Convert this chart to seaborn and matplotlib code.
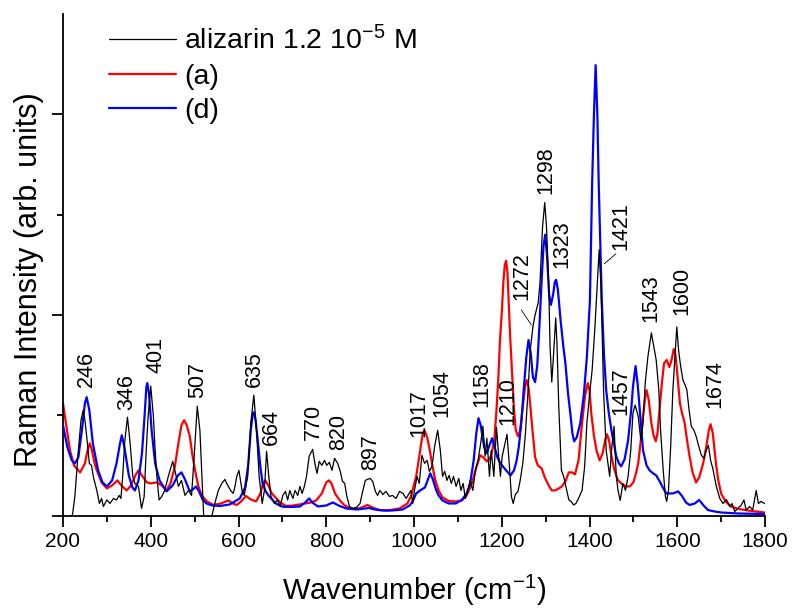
import matplotlib
matplotlib.use("Agg")
import matplotlib.pyplot as plt
import seaborn as sns
import pandas as pd
from matplotlib.ticker import MultipleLocator, FixedLocator, NullFormatter

# ---------------- data ----------------
alizarin_x = [218, 222, 227, 235, 241, 246, 250, 254, 260, 265, 269, 277, 283, 288, 292, 300, 307, 315, 322, 328,
              332, 336, 341, 347, 353, 359, 364, 372, 379, 385, 389, 394, 400, 406, 410, 414, 419, 425, 432, 440,
              450, 455, 463, 470, 478, 486, 493, 499, 506, 512, 518, 521, 530, 539, 546, 554, 562, 569, 573, 577,
              582, 588, 592, 596, 601, 608, 613, 621, 628, 635, 641, 647, 654, 659, 664, 669, 674, 682, 689, 695,
              701, 707, 712, 717, 724, 729, 735, 740, 745, 750, 755, 761, 769, 774, 779, 784, 790, 796, 801, 807,
              813, 819, 826, 832, 837, 842, 847, 853, 860, 869, 877, 883, 889, 894, 900, 906, 912, 917, 922, 929,
              936, 944, 951, 959, 967, 975, 982, 989, 993, 997, 1001, 1007, 1012, 1018, 1024, 1030, 1035, 1041, 1047, 1054,
              1060, 1065, 1070, 1075, 1080, 1085, 1090, 1096, 1102, 1107, 1112, 1117, 1123, 1128, 1134, 1140, 1146, 1151, 1157, 1162,
              1166, 1172, 1176, 1182, 1188, 1193, 1197, 1201, 1212, 1217, 1222, 1226, 1231, 1237, 1242, 1248, 1254, 1260, 1265, 1271,
              1276, 1283, 1287, 1293, 1298, 1302, 1307, 1310, 1314, 1318, 1323, 1326, 1330, 1336, 1341, 1346, 1353, 1358, 1364, 1369,
              1375, 1383, 1389, 1394, 1400, 1406, 1412, 1417, 1422, 1426, 1429, 1432, 1438, 1446, 1451, 1456, 1461, 1465, 1470, 1476,
              1482, 1488, 1494, 1499, 1504, 1511, 1517, 1522, 1527, 1533, 1541, 1547, 1552, 1558, 1562, 1568, 1573, 1576, 1580, 1585,
              1590, 1596, 1599, 1603, 1608, 1613, 1618, 1622, 1627, 1632, 1638, 1643, 1649, 1655, 1661, 1666, 1671, 1676, 1681, 1689,
              1697, 1704, 1712, 1720, 1725, 1731, 1738, 1746, 1752, 1757, 1765, 1772, 1780, 1785, 1791, 1799]
alizarin_y = [-0.05, 0.02, 0.19, 0.65, 0.95, 1.05, 0.95, 0.79, 0.52, 0.50, 0.39, 0.25, 0.12, 0.17, 0.09, 0.155, 0.12, 0.17, 0.155, 0.20,
              0.17, 0.39, 0.75, 0.98, 0.72, 0.39, 0.32, 0.29, 0.07, 0.19, 0.59, 0.99, 1.29, 0.99, 0.65, 0.39, 0.155, 0.19, 0.25, 0.39,
              0.54, 0.45, 0.29, 0.35, 0.20, 0.25, 0.20, 0.59, 1.09, 0.85, 0.25, -0.04, -0.12, -0.01, 0.12, 0.25, 0.32, 0.36, 0.32, 0.29,
              0.25, 0.22, 0.29, 0.39, 0.45, 0.25, 0.20, 0.39, 0.92, 1.20, 0.85, 0.39, 0.12, 0.25, 0.64, 0.39, 0.19, 0.12, 0.155, 0.09,
              0.20, 0.24, 0.155, 0.25, 0.17, 0.25, 0.20, 0.29, 0.22, 0.29, 0.39, 0.59, 0.66, 0.52, 0.42, 0.54, 0.50, 0.55, 0.50, 0.53,
              0.45, 0.57, 0.52, 0.44, 0.34, 0.32, 0.19, 0.09, 0.07, 0.08, 0.12, 0.24, 0.35, 0.36, 0.37, 0.34, 0.24, 0.20, 0.25, 0.21,
              0.24, 0.19, 0.20, 0.17, 0.24, 0.22, 0.17, 0.22, 0.25, 0.12, 0.25, 0.39, 0.32, 0.60, 0.52, 0.55, 0.44, 0.49, 0.69, 0.85,
              0.65, 0.39, 0.44, 0.35, 0.40, 0.32, 0.39, 0.29, 0.37, 0.25, 0.32, 0.17, 0.25, 0.35, 0.25, 0.45, 0.55, 0.69, 0.89, 0.59,
              0.77, 0.39, 0.65, 0.39, 0.88, 0.59, 0.39, 0.59, 0.81, 0.52, 0.19, 0.12, 0.21, 0.24, 0.35, 0.52, 0.82, 1.25, 1.65, 1.88,
              2.00, 2.12, 2.31, 2.88, 3.12, 2.88, 2.31, 1.70, 1.33, 1.60, 1.97, 1.70, 1.08, 0.45, 0.39, 0.29, 0.155, 0.14, 0.105, 0.12,
              0.17, 0.25, 0.49, 0.92, 1.20, 1.45, 1.85, 2.25, 2.65, 2.30, 1.80, 1.25, 0.65, 0.39, 0.69, 0.89, 0.39, 0.25, 0.15, 0.32,
              0.25, 0.39, 0.65, 1.02, 1.10, 0.99, 0.75, 0.92, 1.32, 1.58, 1.82, 1.67, 1.55, 1.25, 0.85, 0.45, 0.19, 0.14, 0.25, 0.69,
              1.25, 1.68, 1.88, 1.65, 1.48, 1.35, 1.30, 1.25, 1.05, 0.89, 0.85, 0.79, 0.69, 0.60, 0.57, 0.65, 0.70, 0.55, 0.47, 0.29,
              0.17, 0.12, 0.16, 0.09, 0.12, 0.04, 0.07, 0.105, 0.155, 0.055, 0.09, 0.055, 0.25, 0.12, 0.14, 0.12]

a_x = [200, 208, 216, 225, 239, 250, 256, 261, 266, 272, 277, 288, 300, 312, 324, 333, 345, 355, 365, 372,
       380, 391, 400, 414, 425, 436, 445, 455, 463, 470, 476, 482, 489, 495, 501, 508, 516, 528, 543, 560,
       577, 587, 596, 606, 617, 628, 640, 650, 656, 661, 668, 676, 682, 695, 708, 725, 746, 765, 777, 790,
       800, 806, 812, 820, 830, 842, 856, 875, 894, 905, 921, 940, 967, 985, 993, 1005, 1013, 1020, 1024, 1030,
       1036, 1041, 1048, 1056, 1065, 1079, 1095, 1109, 1120, 1132, 1142, 1151, 1158, 1166, 1172, 1177, 1183, 1188, 1192, 1196,
       1200, 1204, 1207, 1210, 1213, 1216, 1219, 1223, 1228, 1232, 1237, 1242, 1248, 1253, 1257, 1261, 1265, 1270, 1276, 1282,
       1291, 1298, 1307, 1314, 1322, 1330, 1337, 1345, 1353, 1360, 1367, 1375, 1383, 1390, 1396, 1400, 1404, 1410, 1416, 1423,
       1430, 1436, 1440, 1445, 1450, 1457, 1465, 1475, 1484, 1492, 1500, 1506, 1511, 1517, 1522, 1527, 1530, 1535, 1541, 1546,
       1551, 1555, 1560, 1565, 1570, 1576, 1582, 1587, 1592, 1596, 1600, 1606, 1611, 1617, 1622, 1628, 1635, 1643, 1650, 1659,
       1666, 1672, 1676, 1681, 1685, 1689, 1694, 1700, 1710, 1723, 1740, 1761, 1780, 1799]
a_y = [1.12, 0.88, 0.65, 0.50, 0.43, 0.52, 0.65, 0.72, 0.65, 0.52, 0.45, 0.33, 0.27, 0.30, 0.35, 0.30, 0.25, 0.30, 0.40, 0.45,
       0.40, 0.33, 0.32, 0.33, 0.30, 0.25, 0.32, 0.49, 0.72, 0.90, 0.95, 0.90, 0.79, 0.60, 0.45, 0.30, 0.20, 0.14, 0.105, 0.12,
       0.15, 0.12, 0.105, 0.14, 0.195, 0.16, 0.14, 0.22, 0.32, 0.35, 0.30, 0.22, 0.19, 0.13, 0.095, 0.10, 0.115, 0.13, 0.15, 0.22,
       0.33, 0.35, 0.32, 0.22, 0.155, 0.10, 0.07, 0.07, 0.105, 0.08, 0.055, 0.05, 0.07, 0.12, 0.19, 0.39, 0.62, 0.82, 0.85, 0.78,
       0.65, 0.52, 0.36, 0.25, 0.18, 0.145, 0.14, 0.15, 0.20, 0.32, 0.48, 0.60, 0.58, 0.54, 0.56, 0.62, 0.75, 1.05, 1.35, 1.75,
       2.02, 2.35, 2.50, 2.54, 2.42, 2.10, 1.80, 1.47, 1.05, 0.85, 0.79, 0.85, 1.08, 1.28, 1.35, 1.28, 1.10, 0.85, 0.58, 0.50,
       0.47, 0.38, 0.30, 0.25, 0.25, 0.27, 0.29, 0.34, 0.43, 0.43, 0.41, 0.55, 0.92, 1.20, 1.32, 1.25, 1.02, 0.80, 0.65, 0.55,
       0.62, 0.76, 0.81, 0.74, 0.59, 0.45, 0.35, 0.31, 0.29, 0.29, 0.33, 0.42, 0.52, 0.75, 0.99, 1.18, 1.25, 1.15, 0.92, 0.80,
       0.74, 0.82, 1.08, 1.32, 1.52, 1.55, 1.48, 1.55, 1.66, 1.60, 1.42, 1.12, 1.02, 0.92, 0.76, 0.59, 0.43, 0.33, 0.38, 0.52,
       0.68, 0.85, 0.91, 0.82, 0.65, 0.49, 0.34, 0.22, 0.14, 0.088, 0.065, 0.05, 0.04, 0.03]

d_x = [200, 210, 220, 227, 235, 243, 250, 254, 260, 268, 280, 290, 300, 312, 322, 330, 334, 340, 350, 358,
       364, 372, 380, 386, 390, 392, 396, 402, 410, 420, 436, 450, 462, 470, 478, 489, 496, 503, 510, 518,
       527, 540, 558, 580, 603, 615, 622, 628, 632, 635, 639, 645, 650, 655, 662, 670, 685, 700, 720, 740,
       752, 761, 768, 781, 800, 815, 828, 845, 870, 898, 910, 929, 950, 974, 990, 997, 1005, 1014, 1025, 1032,
       1037, 1043, 1050, 1056, 1065, 1079, 1095, 1109, 1120, 1128, 1136, 1142, 1147, 1152, 1160, 1166, 1172, 1178, 1184, 1190,
       1197, 1208, 1220, 1228, 1234, 1239, 1245, 1250, 1256, 1261, 1266, 1271, 1276, 1281, 1286, 1291, 1295, 1299, 1303, 1308,
       1312, 1317, 1321, 1324, 1328, 1334, 1340, 1345, 1351, 1357, 1361, 1365, 1371, 1379, 1387, 1394, 1401, 1406, 1410, 1414,
       1418, 1421, 1428, 1433, 1438, 1444, 1450, 1461, 1467, 1472, 1480, 1488, 1495, 1499, 1505, 1510, 1514, 1522, 1530, 1537,
       1545, 1552, 1560, 1567, 1575, 1590, 1602, 1610, 1620, 1628, 1640, 1650, 1660, 1670, 1685, 1700, 1740, 1799]
d_y = [0.90, 0.68, 0.55, 0.52, 0.58, 0.85, 1.12, 1.18, 1.05, 0.72, 0.45, 0.33, 0.29, 0.35, 0.52, 0.72, 0.80, 0.68, 0.40, 0.28,
       0.25, 0.35, 0.62, 1.00, 1.28, 1.32, 1.22, 0.85, 0.52, 0.35, 0.24, 0.30, 0.40, 0.43, 0.36, 0.24, 0.26, 0.29, 0.24, 0.16,
       0.12, 0.10, 0.095, 0.11, 0.17, 0.28, 0.50, 0.85, 1.00, 1.03, 0.95, 0.70, 0.48, 0.32, 0.24, 0.19, 0.12, 0.088, 0.085, 0.09,
       0.13, 0.17, 0.13, 0.09, 0.10, 0.13, 0.10, 0.07, 0.06, 0.075, 0.06, 0.05, 0.05, 0.06, 0.10, 0.14, 0.22, 0.25, 0.28, 0.36,
       0.42, 0.36, 0.26, 0.20, 0.15, 0.12, 0.12, 0.155, 0.22, 0.32, 0.55, 0.82, 0.97, 0.90, 0.68, 0.62, 0.70, 0.77, 0.68, 0.58,
       0.52, 0.46, 0.40, 0.45, 0.55, 0.69, 0.95, 1.25, 1.58, 1.75, 1.62, 1.38, 1.33, 1.50, 1.90, 2.35, 2.68, 2.80, 2.60, 2.20,
       2.10, 2.20, 2.33, 2.35, 2.25, 1.95, 1.70, 1.52, 1.22, 0.99, 0.82, 0.74, 0.78, 0.92, 1.20, 1.58, 2.15, 3.31, 3.98, 4.49,
       3.98, 3.31, 2.15, 1.60, 1.25, 1.02, 0.85, 0.59, 0.52, 0.49, 0.56, 0.75, 1.05, 1.28, 1.49, 1.30, 1.08, 0.65, 0.50, 0.45,
       0.42, 0.40, 0.34, 0.28, 0.22, 0.22, 0.24, 0.20, 0.13, 0.105, 0.12, 0.155, 0.10, 0.055, 0.04, 0.03, 0.02, 0.015]

series_names = ["alizarin 1.2 10$^{-5}$ M", "(a)", "(d)"]
series_colors = ["black", "#ff0000", "#0000ff"]

peak_labels = ["246", "346", "401", "507", "635", "664", "770", "820", "897", "1017", "1054",
               "1158", "1210", "1272", "1298", "1323", "1421", "1457", "1543", "1600", "1674"]
# label anchor (x centre, y of lower end) in data units
label_pos_x = [253, 346, 412, 506, 637, 676, 771, 828, 901, 1010, 1063,
               1155, 1213, 1247, 1300, 1337, 1472, 1472, 1541, 1611, 1685]
label_pos_y = [1.28, 1.05, 1.42, 1.17, 1.28, 0.70, 0.75, 0.65, 0.45, 0.78, 0.98,
               1.08, 0.90, 2.15, 3.21, 2.47, 2.65, 1.00, 1.93, 2.00, 1.07]

# ---------------- style ----------------
sns.set_theme(style="ticks")
plt.rcParams["font.family"] = ["Liberation Sans", "DejaVu Sans"]
plt.rcParams["mathtext.fontset"] = "custom"
plt.rcParams["mathtext.rm"] = "Liberation Sans"
plt.rcParams["mathtext.it"] = "Liberation Sans:italic"
plt.rcParams["mathtext.bf"] = "Liberation Sans:bold"
plt.rcParams["text.color"] = "black"
plt.rcParams["axes.labelcolor"] = "black"
plt.rcParams["xtick.color"] = "black"
plt.rcParams["ytick.color"] = "black"
plt.rcParams["axes.edgecolor"] = "black"

fig = plt.figure(figsize=(7.92, 6.10), dpi=100)
ax = fig.add_axes([63 / 792, 1 - 515.5 / 610, 702 / 792, 501.5 / 610])

frames = [
    pd.DataFrame({"x": alizarin_x, "y": alizarin_y}),
    pd.DataFrame({"x": a_x, "y": a_y}),
    pd.DataFrame({"x": d_x, "y": d_y}),
]
widths = [0.9, 1.6, 1.6]
zorders = [4, 2, 3]
for df, name, col, lw, zo in zip(frames, series_names, series_colors, widths, zorders):
    sns.lineplot(data=df, x="x", y="y", ax=ax, color=col, lw=lw, label=name,
                 estimator=None, sort=False, zorder=zo)

# annotations
for lab, lx, ly in zip(peak_labels, label_pos_x, label_pos_y):
    ax.text(lx, ly, lab, rotation=90, ha="center", va="bottom", fontsize=15.5, color="black", zorder=6)
# leader lines for 1272 and 1421
ax.plot([1244.6, 1267.4], [2.05, 1.90], color="black", lw=0.6, zorder=6)
ax.plot([1433.8, 1460.4], [2.51, 2.61], color="black", lw=0.6, zorder=6)

ax.set_xlim(200, 1800)
ax.set_ylim(0, 5)
ax.xaxis.set_major_locator(MultipleLocator(200))
ax.xaxis.set_minor_locator(MultipleLocator(100))
ax.yaxis.set_major_locator(FixedLocator([0, 2, 4]))
ax.yaxis.set_minor_locator(FixedLocator([1, 3]))
ax.yaxis.set_major_formatter(NullFormatter())

for s in ["top", "right"]:
    ax.spines[s].set_visible(False)
for s in ["left", "bottom"]:
    ax.spines[s].set_linewidth(1.3)
    ax.spines[s].set_color("black")

ax.tick_params(which="major", direction="out", length=8, width=1.3, colors="black", labelsize=15, pad=4)
ax.tick_params(which="minor", direction="out", length=4.5, width=1.3, colors="black")

ax.set_xlabel("Wavenumber (cm$^{-1}$)", fontsize=21, color="black")
ax.set_ylabel("Raman Intensity (arb. units)", fontsize=22, color="black")
ax.xaxis.set_label_coords(0.5, -0.115)
ax.yaxis.set_label_coords(-0.027, 0.47)

leg = ax.legend(loc="upper left", bbox_to_anchor=(0.0655, 0.976), frameon=False, fontsize=20.5,
                handlelength=2.35, handletextpad=0.3, labelspacing=0.3, borderpad=0, borderaxespad=0)
for h, lw in zip(leg.get_lines(), widths):
    h.set_linewidth(lw)
for t in leg.get_texts():
    t.set_color("black")

fig.savefig("out.png", dpi=100)
